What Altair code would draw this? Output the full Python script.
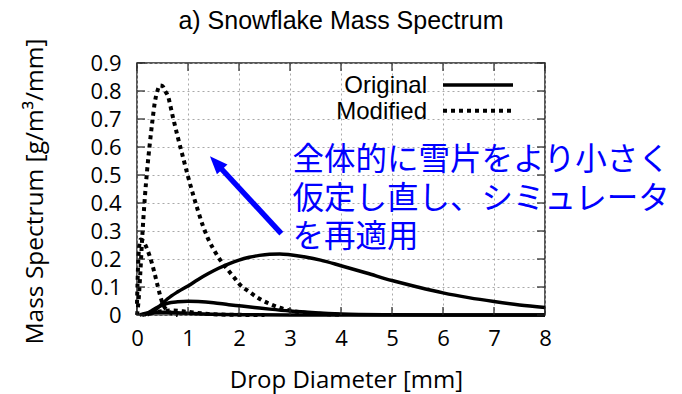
import altair as alt
import pandas as pd

# ---- curve data: drop diameter (mm) vs mass spectrum (g/m^3/mm) ----------
orig_large_x = [0.2, 0.3, 0.45, 0.6, 0.8, 1.0, 1.2, 1.4, 1.6, 1.8, 2.0, 2.2, 2.4,
                2.6, 2.8, 3.0, 3.3, 3.6, 4.0, 4.5, 5.0, 5.5, 6.0, 6.5, 7.0, 7.5, 8.0]
orig_large_y = [0.0, 0.01, 0.033, 0.058, 0.083, 0.104, 0.127, 0.148, 0.167, 0.183,
                0.196, 0.206, 0.213, 0.217, 0.218, 0.215, 0.207, 0.196, 0.176,
                0.15, 0.123, 0.1, 0.079, 0.062, 0.048, 0.036, 0.027]

orig_mid_x = [0.15, 0.2, 0.3, 0.45, 0.6, 0.8, 1.0, 1.2, 1.5, 1.8, 2.0, 2.3, 2.6,
              3.0, 3.5, 4.0, 5.0, 6.0, 8.0]
orig_mid_y = [0.0, 0.005, 0.017, 0.032, 0.042, 0.047, 0.049, 0.048, 0.044, 0.037,
              0.033, 0.027, 0.021, 0.014, 0.008, 0.004, 0.001, 0.0, 0.0]

orig_small_x = [0.05, 0.2, 0.4, 0.6, 0.9, 1.3, 2.0, 3.0, 8.0]
orig_small_y = [0.0, 0.007, 0.01, 0.01, 0.007, 0.004, 0.001, 0.0, 0.0]

mod_large_x = [0.0, 0.03, 0.065, 0.1, 0.15, 0.2, 0.25, 0.3, 0.35, 0.4, 0.45, 0.5,
               0.55, 0.6, 0.7, 0.8, 0.9, 1.0, 1.1, 1.2, 1.3, 1.4, 1.5, 1.6, 1.7,
               1.8, 1.9, 2.0, 2.2, 2.4, 2.6, 2.8, 3.0, 3.2, 3.5, 4.0]
mod_large_y = [0.0, 0.05, 0.15, 0.27, 0.41, 0.52, 0.61, 0.69, 0.76, 0.80, 0.82,
               0.818, 0.80, 0.785, 0.71, 0.635, 0.565, 0.495, 0.43, 0.37, 0.315,
               0.27, 0.235, 0.205, 0.18, 0.157, 0.135, 0.112, 0.083, 0.058, 0.04,
               0.026, 0.016, 0.01, 0.005, 0.001]

mod_mid_x = [0.0, 0.02, 0.04, 0.07, 0.1, 0.15, 0.2, 0.25, 0.3, 0.35, 0.4, 0.45,
             0.5, 0.6, 0.7, 0.8]
mod_mid_y = [0.04, 0.17, 0.24, 0.27, 0.268, 0.255, 0.235, 0.21, 0.18, 0.145,
             0.108, 0.072, 0.042, 0.015, 0.005, 0.0]

mod_small_x = [0.1, 0.3, 0.5, 0.7, 0.9, 1.1, 1.4, 1.8, 2.5]
mod_small_y = [0.0, 0.008, 0.014, 0.016, 0.013, 0.009, 0.004, 0.001, 0.0]

x_ticks = [0, 1, 2, 3, 4, 5, 6, 7, 8]
y_ticks = [0, 0.1, 0.2, 0.3, 0.4, 0.5, 0.6, 0.7, 0.8, 0.9]

legend_labels = ["Original", "Modified"]
note_lines = ["全体的に雪片をより小さく", "仮定し直し、シミュレータ", "を再適用"]

curves = [
    ("orig_large", "Original", orig_large_x, orig_large_y),
    ("orig_mid", "Original", orig_mid_x, orig_mid_y),
    ("orig_small", "Original", orig_small_x, orig_small_y),
    ("mod_large", "Modified", mod_large_x, mod_large_y),
    ("mod_mid", "Modified", mod_mid_x, mod_mid_y),
    ("mod_small", "Modified", mod_small_x, mod_small_y),
]

rows = []
for name, kind, xs, ys in curves:
    for i, (xv, yv) in enumerate(zip(xs, ys)):
        rows.append({"curve": name, "kind": kind, "order": i, "x": xv, "y": yv})
df = pd.DataFrame(rows)

# ---- layout ---------------------------------------------------------------
PLOT_W, PLOT_H = 408, 252
TICK = 8
LABEL_FONT = "Open Sans"
KEY_FONT = "Liberation Sans"

xscale = alt.Scale(domain=[0, 8], nice=False, zero=False)
yscale = alt.Scale(domain=[0, 0.9], nice=False, zero=False)

x_axis = alt.Axis(
    values=x_ticks, format="~g", title="Drop Diameter [mm]",
    grid=True, gridDash=[2, 3], gridColor="#a9a9a9", gridWidth=1,
    ticks=False, domain=False, labelFlush=False,
    labelFont=LABEL_FONT, labelFontSize=22, labelPadding=13, labelColor="black",
    titleFont=LABEL_FONT, titleFontSize=24, titleFontWeight="normal",
    titleColor="black", titleX=209, titleY=72, titleBaseline="alphabetic",
)
y_axis = alt.Axis(
    values=y_ticks, format="~g", title="Mass Spectrum [g/m³/mm]",
    grid=True, gridDash=[2, 3], gridColor="#a9a9a9", gridWidth=1,
    ticks=False, domain=False, labelFlush=False,
    labelFont=LABEL_FONT, labelFontSize=22, labelPadding=16, labelColor="black",
    titleFont=LABEL_FONT, titleFontSize=24.5, titleFontWeight="normal",
    titleColor="black", titleX=-95, titleY=128, titleAngle=270,
    titleBaseline="alphabetic",
)


def xq(field):
    return alt.X(field, type="quantitative", scale=xscale, axis=x_axis)


def yq(field):
    return alt.Y(field, type="quantitative", scale=yscale, axis=y_axis)


base = alt.Chart(df)

dotted = base.transform_filter(alt.datum.kind == "Modified").mark_line(
    color="black", strokeWidth=4, strokeDash=[4, 4], strokeCap="butt",
    interpolate="monotone",
).encode(x=xq("x"), y=yq("y"), detail="curve:N", order="order:Q")

solid = base.transform_filter(alt.datum.kind == "Original").mark_line(
    color="black", strokeWidth=3.5, interpolate="monotone",
).encode(x=xq("x"), y=yq("y"), detail="curve:N", order="order:Q")

# inward tick marks on all four sides
xt = pd.DataFrame({"x": x_ticks})
yt = pd.DataFrame({"y": y_ticks})
one = pd.DataFrame({"n": [0]})
tick_style = dict(color="#222", strokeWidth=1.2)
ticks_bottom = alt.Chart(xt).mark_rule(**tick_style).encode(
    x=xq("x"), y=alt.value(PLOT_H), y2=alt.value(PLOT_H - TICK))
ticks_top = alt.Chart(xt).mark_rule(**tick_style).encode(
    x=xq("x"), y=alt.value(0), y2=alt.value(TICK))
ticks_left = alt.Chart(yt).mark_rule(**tick_style).encode(
    y=yq("y"), x=alt.value(0), x2=alt.value(TICK))
ticks_right = alt.Chart(yt).mark_rule(**tick_style).encode(
    y=yq("y"), x=alt.value(PLOT_W - TICK), x2=alt.value(PLOT_W))

# key in the upper right corner
key_layers = []
key_styles = [dict(strokeWidth=3.5), dict(strokeWidth=4, strokeDash=[4, 4], strokeCap="butt")]
for i, (label, style) in enumerate(zip(legend_labels, key_styles)):
    row_y = 22 + i * 25.7
    key_layers.append(
        alt.Chart(one).mark_text(
            text=label, font=KEY_FONT, fontSize=24, align="right",
            baseline="middle", color="black",
        ).encode(x=alt.value(290), y=alt.value(row_y + 1))
    )
    key_layers.append(
        alt.Chart(one).mark_rule(color="black", **style).encode(
            x=alt.value(306), x2=alt.value(376), y=alt.value(row_y))
    )

# annotation: note text and arrow pointing at the modified spectrum
ARROW_TIP = (1.43, 0.567)
ARROW_BASE = (1.64, 0.525)
ARROW_TAIL = (2.83, 0.291)
NOTE_BLUE = "#0000ff"

note = alt.Chart(one).mark_text(
    text="\n".join(note_lines), lineBreak="\n", lineHeight=38.5,
    font="Noto Sans CJK JP", fontSize=31.5, align="left", baseline="middle",
    color=NOTE_BLUE,
).encode(x=alt.value(155.5), y=alt.value(98))

shaft = alt.Chart(one).mark_rule(color=NOTE_BLUE, strokeWidth=5.5, strokeCap="butt").encode(
    x=alt.X(datum=ARROW_TAIL[0], type="quantitative", scale=xscale, axis=x_axis),
    y=alt.Y(datum=ARROW_TAIL[1], type="quantitative", scale=yscale, axis=y_axis),
    x2=alt.X2(datum=ARROW_BASE[0]),
    y2=alt.Y2(datum=ARROW_BASE[1]),
)
head = alt.Chart(one).mark_point(
    shape="M0,0L0.8,2L-0.8,2Z", size=324, angle=317,
    filled=True, fill=NOTE_BLUE, stroke=NOTE_BLUE, strokeWidth=0, opacity=1,
).encode(
    x=alt.X(datum=ARROW_TIP[0], type="quantitative", scale=xscale, axis=x_axis),
    y=alt.Y(datum=ARROW_TIP[1], type="quantitative", scale=yscale, axis=y_axis),
)

chart = alt.layer(
    dotted, solid, ticks_bottom, ticks_top, ticks_left, ticks_right,
    *key_layers, note, shaft, head,
).properties(
    width=PLOT_W, height=PLOT_H,
    background="white",
    autosize=alt.AutoSizeParams(type="none"),
    padding={"left": 137, "top": 63, "right": 137, "bottom": 79},
    title=alt.Title(
        "a) Snowflake Mass Spectrum", font=KEY_FONT, fontSize=25,
        fontWeight="normal", color="black", anchor="middle", offset=4,
    ),
).configure_view(
    stroke="#222", strokeWidth=1.5,
)

chart.save("out.html", embed_options={"renderer": "svg", "actions": False})
